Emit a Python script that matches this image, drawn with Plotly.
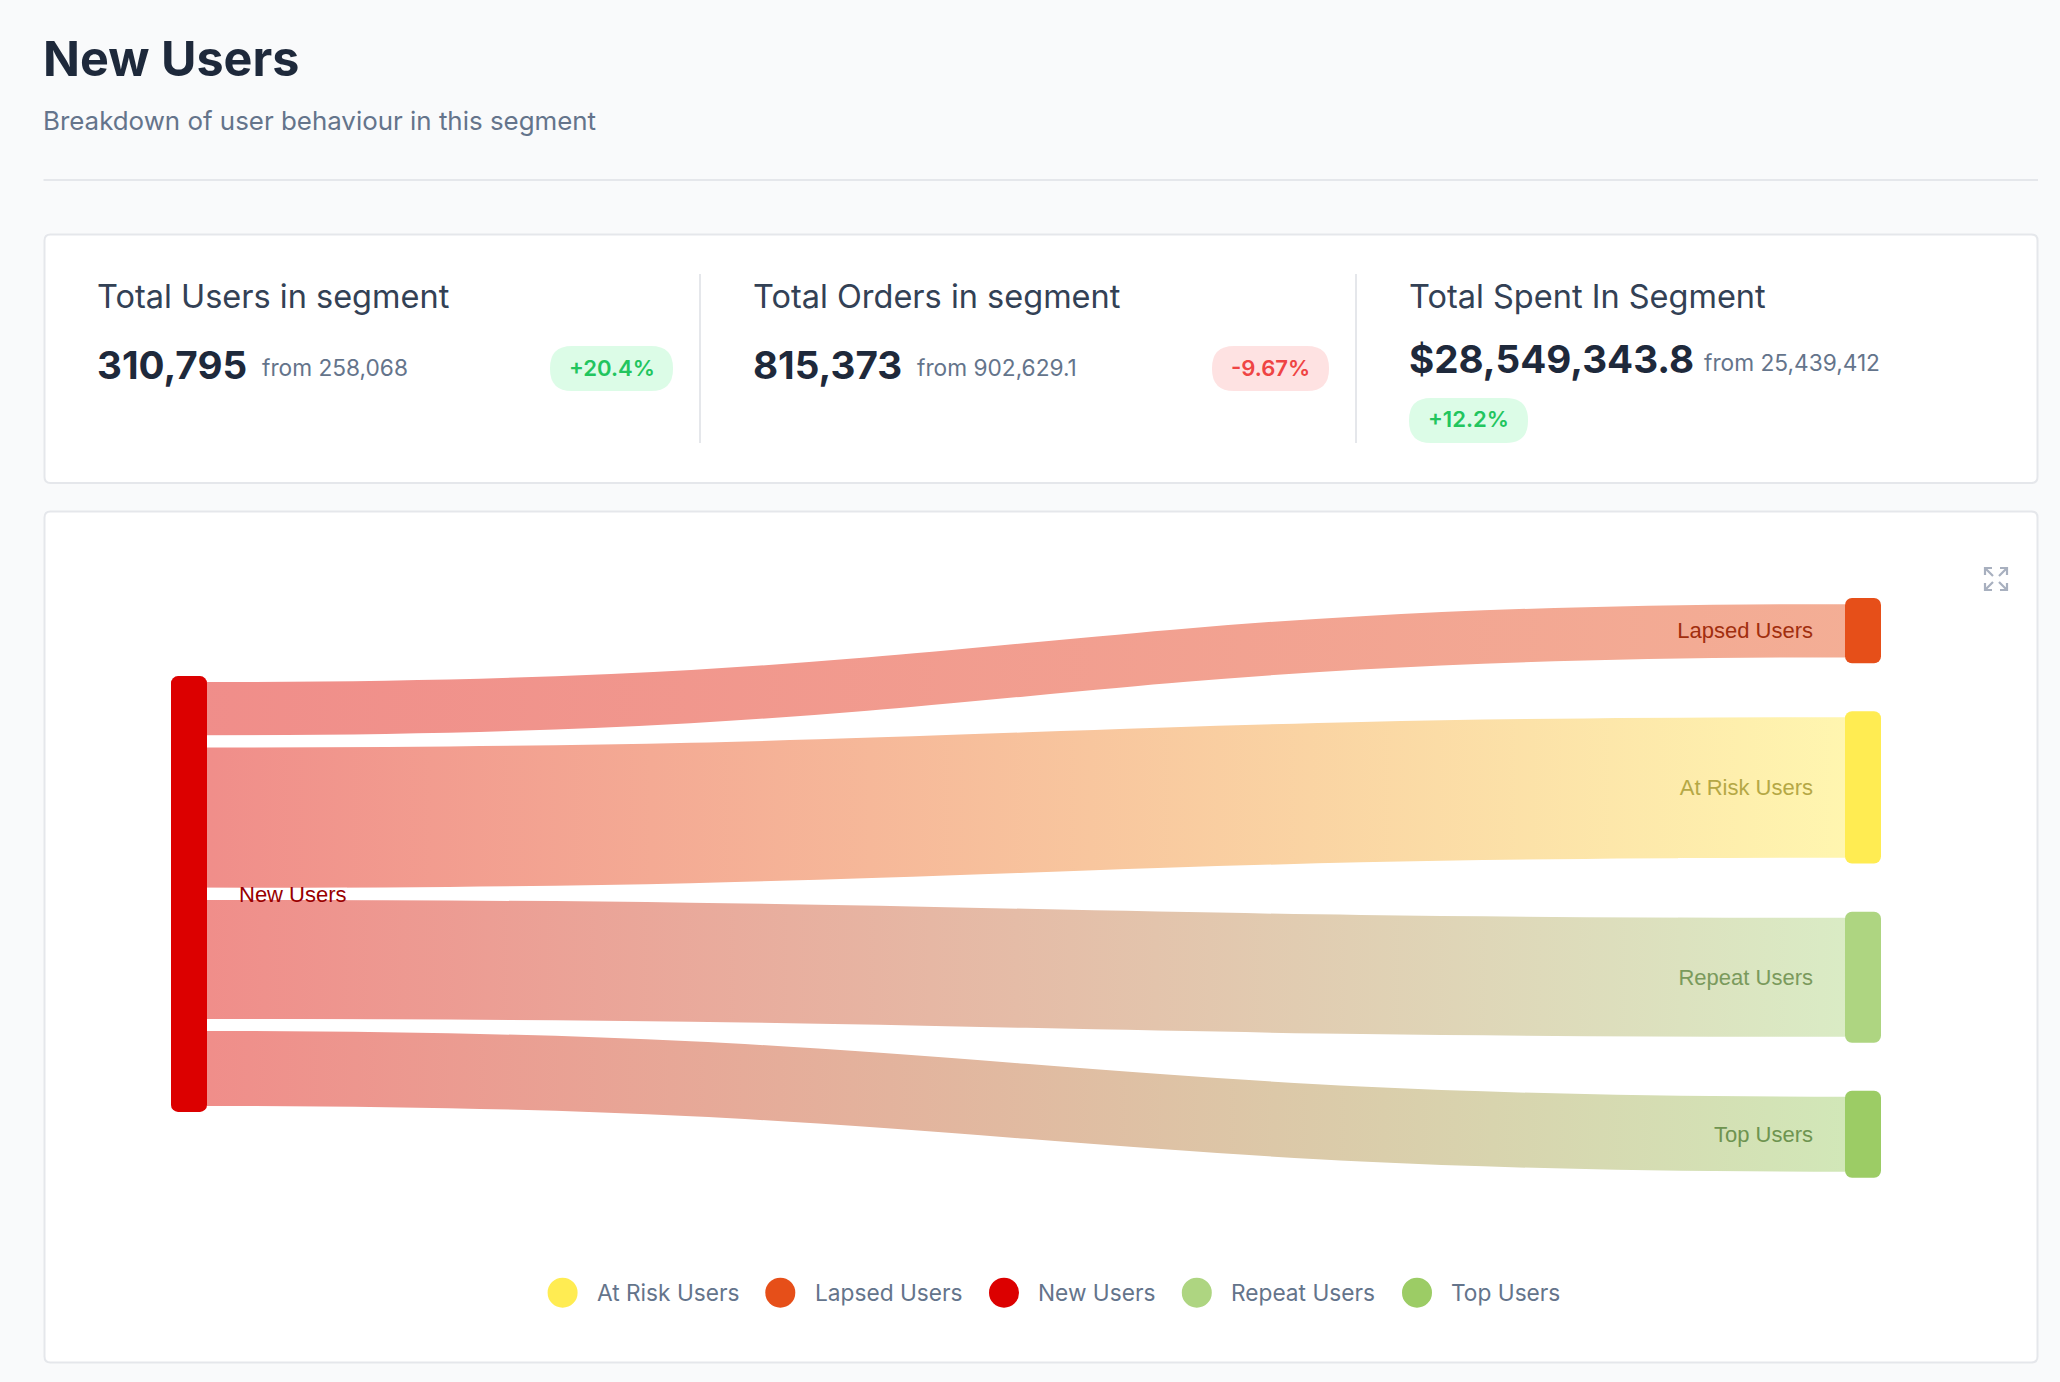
import json
import plotly.graph_objects as go

W, H = 2060, 1382

# ---------- data ----------
node_names = ["New Users", "Lapsed Users", "At Risk Users", "Repeat Users", "Top Users"]
node_colors = ["#DC0000", "#E64F19", "#FFEC52", "#AED581", "#9CCC65"]
label_colors = ["#990000", "#A12E0E", "#B5A845", "#7A9A5C", "#6E9450"]
link_source = [0, 0, 0, 0]
link_target = [1, 2, 3, 4]
link_values = [46600, 108700, 93450, 62045]

legend_names = ["At Risk Users", "Lapsed Users", "New Users", "Repeat Users", "Top Users"]
legend_colors = ["#FFEC52", "#E64F19", "#DC0000", "#AED581", "#9CCC65"]

kpi_labels = ["Total Users in segment", "Total Orders in segment", "Total Spent In Segment"]
kpi_values = ["310,795", "815,373", "$28,549,343.8"]
kpi_from = ["from 258,068", "from 902,629.1", "from 25,439,412"]
kpi_delta = ["+20.4%", "-9.67%", "+12.2%"]
kpi_up = [True, False, True]

title_text = "New Users"
subtitle_text = "Breakdown of user behaviour in this segment"

# ---------- layout constants (pixels) ----------
FONT = "Inter"
BG, BORDER = "#F9FAFB", "#E5E7EB"
DARK, MID, MUTED = "#1E293B", "#334155", "#64748B"
PLOT_L, PLOT_R, PLOT_T = 171, 1881, 598
NODE_T, NODE_PAD = 36, 48.4
PLOT_H = 581
node_cy = [894, 630.6, 787.4, 977.3, 1134.3]

kpi_x = [97, 753, 1409]
from_x = [262, 917, 1704]
value_cy = [365, 365, 359.5]
from_cy = [368, 368, 362]
badge_box = [(550, 346, 673, 391), (1212, 346, 1329, 391), (1409, 398, 1528, 443)]
legend_cx = [562.6, 780.3, 1004, 1196.8, 1417]
legend_tx = [597, 814.5, 1037.6, 1231, 1450.7]
LEGEND_CY = 1292.7


def px(x):
    return x / W


def py(y):
    return 1 - y / H


def rrect(x0, y0, x1, y1, r):
    pts = [
        f"M{px(x0 + r)},{py(y0)}", f"L{px(x1 - r)},{py(y0)}", f"Q{px(x1)},{py(y0)} {px(x1)},{py(y0 + r)}",
        f"L{px(x1)},{py(y1 - r)}", f"Q{px(x1)},{py(y1)} {px(x1 - r)},{py(y1)}",
        f"L{px(x0 + r)},{py(y1)}", f"Q{px(x0)},{py(y1)} {px(x0)},{py(y1 - r)}",
        f"L{px(x0)},{py(y0 + r)}", f"Q{px(x0)},{py(y0)} {px(x0 + r)},{py(y0)}Z",
    ]
    return " ".join(pts)


shapes, annotations = [], []


def box(x0, y0, x1, y1, r, fill, line=None, lw=0):
    shapes.append(dict(type="path", path=rrect(x0, y0, x1, y1, r), xref="paper", yref="paper",
                       fillcolor=fill, line=dict(color=line or fill, width=lw), layer="below"))


def hline(x0, y0, x1, y1, color=BORDER, w=2):
    shapes.append(dict(type="line", x0=px(x0), x1=px(x1), y0=py(y0), y1=py(y1), xref="paper", yref="paper",
                       line=dict(color=color, width=w), layer="below"))


def text(s, x, y, size, color, weight=400, anchor="left"):
    annotations.append(dict(text=s, x=px(x), y=py(y), xref="paper", yref="paper", xanchor=anchor, yanchor="middle",
                            showarrow=False, align=anchor, borderpad=0, borderwidth=0,
                            font=dict(family=FONT, size=size, color=color, weight=weight)))


text(title_text, 42.5, 59, 48.5, DARK, 700)
text(subtitle_text, 43, 120, 25.9, MUTED)
hline(43.5, 180, 2038, 180)

box(44.5, 234.5, 2037.5, 483, 6, "#FFFFFF", BORDER, 2)
box(44.5, 511.5, 2037.5, 1362.5, 6, "#FFFFFF", BORDER, 2)
hline(700, 274, 700, 443)
hline(1356, 274, 1356, 443)

for i in range(3):
    text(kpi_labels[i], kpi_x[i], 296.5, 32.5, MID)
    text(kpi_values[i], kpi_x[i], value_cy[i], 38.6, DARK, 700)
    text(kpi_from[i], from_x[i], from_cy[i], 22.7, MUTED)
    x0, y0, x1, y1 = badge_box[i]
    box(x0, y0, x1, y1, 22, "#DCFCE7" if kpi_up[i] else "#FEE2E2")
    text(kpi_delta[i], (x0 + x1) / 2, (y0 + y1) / 2 - 1, 22.1, "#22C55E" if kpi_up[i] else "#EF4444", 600, "center")

for i, name in enumerate(legend_names):
    c, r = legend_cx[i], 15
    shapes.append(dict(type="circle", x0=px(c - r), x1=px(c + r), y0=py(LEGEND_CY + r), y1=py(LEGEND_CY - r),
                       xref="paper", yref="paper", fillcolor=legend_colors[i], line=dict(width=0), layer="below"))
    text(name, legend_tx[i], LEGEND_CY, 22.7, MUTED)

# expand icon: four corner arrows
IC_L, IC_T, IC_R, IC_B = 1985, 568, 2007, 590
IC_C = "#A8B0BF"
for cx, cy, dx, dy in [(IC_L, IC_T, 1, 1), (IC_R, IC_T, -1, 1), (IC_L, IC_B, 1, -1), (IC_R, IC_B, -1, -1)]:
    p = (f"M{px(cx + dx * 7)},{py(cy)} L{px(cx)},{py(cy)} L{px(cx)},{py(cy + dy * 7)} "
         f"M{px(cx)},{py(cy)} L{px(cx + dx * 8)},{py(cy + dy * 8)}")
    shapes.append(dict(type="path", path=p, xref="paper", yref="paper", line=dict(color=IC_C, width=2.2), layer="above"))

plot_w = PLOT_R - PLOT_L
node_x = [NODE_T / 2 / plot_w] + [1 - NODE_T / 2 / plot_w] * 4
node_y = [(c - PLOT_T) / PLOT_H for c in node_cy]

fig = go.Figure(go.Sankey(
    arrangement="fixed",
    domain=dict(x=[px(PLOT_L), px(PLOT_R)], y=[py(PLOT_T + PLOT_H), py(PLOT_T)]),
    node=dict(label=node_names, color=node_colors, thickness=NODE_T, pad=NODE_PAD,
              x=node_x, y=node_y, line=dict(width=0), hoverinfo="skip"),
    link=dict(source=link_source, target=link_target, value=link_values,
              color="rgba(220,0,0,0.45)", line=dict(color="#FFFFFF", width=12), hoverinfo="skip"),
    textfont=dict(family="Liberation Sans", size=22, color="#333333"),
))
fig.update_layout(width=W, height=H, margin=dict(l=0, r=0, t=0, b=0), autosize=False,
                  paper_bgcolor=BG, plot_bgcolor=BG, shapes=shapes, annotations=annotations,
                  showlegend=False)

config = dict(
    labelColors=dict(zip(node_names, label_colors)),
    src=["#DE0800" if i == 0 else node_colors[i] for i in link_source],
    tgt=[node_colors[i] for i in link_target],
    opacity=0.46, trim=6, rx=7, dxLeft=29, dxRight=-29,
)

post = "var CFG = " + json.dumps(config) + r""";
document.documentElement.style.margin = '0';
document.documentElement.style.overflow = 'hidden';
document.body.style.margin = '0';
document.body.style.background = '#F9FAFB';
var gd = document.getElementById('{plot_id}');
function style() {
  var svg = gd.querySelector('.main-svg');
  if (!document.getElementById('lg-defs')) {
    var NS = 'http://www.w3.org/2000/svg';
    var defs = document.createElementNS(NS, 'defs'); defs.id = 'lg-defs';
    CFG.src.forEach(function (s, i) {
      var g = document.createElementNS(NS, 'linearGradient');
      g.id = 'lg-' + i;
      g.setAttribute('x1', '0'); g.setAttribute('x2', '1'); g.setAttribute('y1', '0'); g.setAttribute('y2', '0');
      [[0, s], [1, CFG.tgt[i]]].forEach(function (st) {
        var e = document.createElementNS(NS, 'stop');
        e.setAttribute('offset', st[0]); e.setAttribute('stop-color', st[1]); e.setAttribute('stop-opacity', CFG.opacity);
        g.appendChild(e);
      });
      defs.appendChild(g);
    });
    svg.appendChild(defs);
  }
  gd.querySelectorAll('path.sankey-link').forEach(function (el, i) {
    var d = el.__data__, p = (d && d.link && d.link.pointNumber !== undefined) ? d.link.pointNumber : i;
    el.style.fill = 'url(#lg-' + p + ')';
    el.style.fillOpacity = 1;
    var cur = el.getAttribute('d');
    if (cur && cur !== el._lgd) {
      var nums = cur.match(/-?\d+(\.\d+)?(e-?\d+)?/g).map(Number), xs = nums.filter(function (_, k) { return k % 2 === 0; });
      var mn = Math.min.apply(null, xs), mx = Math.max.apply(null, xs), k = 0;
      var nd = cur.replace(/-?\d+(\.\d+)?(e-?\d+)?/g, function (m) {
        var v = Number(m), isX = (k++ % 2 === 0);
        if (isX && Math.abs(v - mn) < 0.01) v -= CFG.trim;
        else if (isX && Math.abs(v - mx) < 0.01) v += CFG.trim;
        return String(v);
      });
      el.setAttribute('d', nd); el._lgd = nd;
    }
  });
  gd.querySelectorAll('.node-rect').forEach(function (el) { el.setAttribute('rx', CFG.rx); el.setAttribute('ry', CFG.rx); });
  gd.querySelectorAll('.node-label').forEach(function (el) {
    var name = el.textContent;
    el.style.textShadow = 'none';
    if (CFG.labelColors[name]) el.style.fill = CFG.labelColors[name];
    el.setAttribute('dx', name === 'New Users' ? CFG.dxLeft : CFG.dxRight);
  });
}
style();
[50, 200, 500, 800, 1200, 2000, 3000].forEach(function (t) { setTimeout(style, t); });
"""

fig.write_html("out.html", post_script=post, config=dict(displayModeBar=False))
